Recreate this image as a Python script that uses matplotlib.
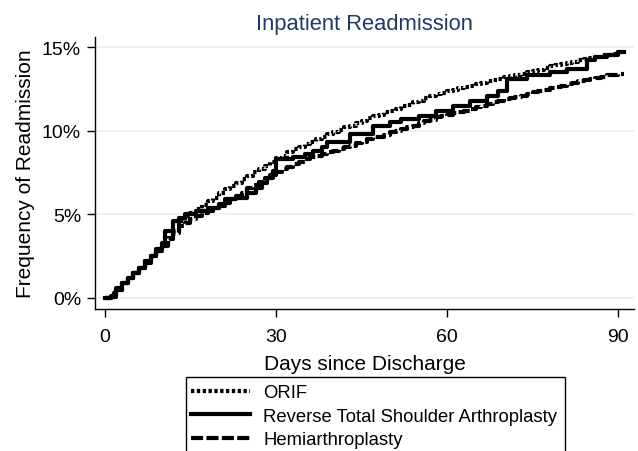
import matplotlib
matplotlib.use("Agg")
import matplotlib.pyplot as plt
from matplotlib.patches import Rectangle
from matplotlib.ticker import FuncFormatter

plt.rcParams['font.family'] = ['Liberation Sans', 'DejaVu Sans']

title = "Inpatient Readmission"
xlabel = "Days since Discharge"
ylabel = "Frequency of Readmission"
xticks = [0, 30, 60, 90]
yticks = [0, 5, 10, 15]
labels = ["ORIF", "Reverse Total Shoulder Arthroplasty", "Hemiarthroplasty"]

orif_days = list(range(0, 92))
orif_pct = [0, 0.1, 0.5, 0.9, 1.2, 1.5, 1.8, 2.2, 2.5, 2.8,
            3.2, 3.6, 4.0, 4.6, 4.9, 5.1, 5.3, 5.55, 5.8, 6.0,
            6.25, 6.5, 6.7, 6.9, 7.1, 7.3, 7.5, 7.7, 7.9, 8.1,
            8.35, 8.5, 8.7, 8.9, 9.05, 9.2, 9.35, 9.5, 9.65, 9.8,
            9.9, 10.05, 10.2, 10.3, 10.45, 10.6, 10.75, 10.85, 10.95, 11.1,
            11.2, 11.3, 11.45, 11.55, 11.7, 11.8, 11.95, 12.05, 12.2, 12.25,
            12.35, 12.45, 12.55, 12.6, 12.7, 12.8, 12.85, 12.95, 13.05, 13.1,
            13.2, 13.25, 13.35, 13.4, 13.5, 13.55, 13.65, 13.75, 13.85, 13.9,
            14.0, 14.05, 14.1, 14.2, 14.3, 14.35, 14.4, 14.5, 14.55, 14.6,
            14.7, 14.75]

rtsa_days = [0, 1, 1.5, 2, 3, 4, 5, 6, 7, 8, 9, 10, 10.5, 12, 13, 14, 16, 18, 20, 21,
             23, 25, 26.5, 27.5, 28.5, 29.5, 30, 33, 35, 36.5, 38, 39, 43, 47, 50, 52,
             55, 58, 61, 64, 67, 69, 70.5, 74, 78, 81, 84.5, 86, 88, 90, 91]
rtsa_pct = [0, 0.05, 0.3, 0.6, 0.9, 1.2, 1.5, 1.8, 2.2, 2.5, 2.9, 3.3, 4.0, 4.6, 4.8, 5.0, 5.2, 5.4, 5.6, 5.9,
            6.0, 6.3, 6.6, 6.9, 7.2, 7.6, 8.3, 8.4, 8.6, 8.8, 9.0, 9.3, 9.8, 10.3, 10.5, 10.7,
            10.9, 11.2, 11.5, 11.8, 12.1, 12.4, 13.1, 13.3, 13.5, 13.7, 14.2, 14.4, 14.5, 14.7, 14.7]

hemi_days = list(range(0, 92))
hemi_pct = [0, 0.05, 0.5, 0.9, 1.2, 1.5, 1.8, 2.1, 2.5, 2.8,
            3.1, 3.5, 3.9, 4.3, 4.5, 4.7, 4.9, 5.05, 5.2, 5.35,
            5.5, 5.7, 5.9, 6.1, 6.3, 6.55, 6.75, 6.95, 7.15, 7.35,
            7.55, 7.7, 7.85, 8.0, 8.15, 8.3, 8.4, 8.5, 8.6, 8.7,
            8.8, 8.9, 9.0, 9.1, 9.25, 9.35, 9.5, 9.6, 9.65, 9.75,
            9.9, 10.0, 10.1, 10.2, 10.3, 10.45, 10.55, 10.65, 10.8, 10.85,
            10.95, 11.05, 11.1, 11.2, 11.3, 11.4, 11.5, 11.6, 11.7, 11.8,
            11.9, 11.95, 12.0, 12.1, 12.2, 12.3, 12.35, 12.45, 12.55, 12.6,
            12.7, 12.8, 12.85, 12.95, 13.0, 13.1, 13.15, 13.2, 13.3, 13.35,
            13.4, 13.4]

W, H = 638, 452
fig = plt.figure(figsize=(W / 100, H / 100), dpi=100)
ax = fig.add_axes([95 / W, 1 - 310 / H, (634 - 95) / W, (310 - 38) / H])

lw = 3.0
ax.plot(orif_days, orif_pct, drawstyle='steps-post', color='black', lw=lw,
        linestyle=(0, (0.8, 0.6)), label=labels[0])
ax.plot(rtsa_days, rtsa_pct, drawstyle='steps-post', color='black', lw=lw,
        linestyle='-', label=labels[1])
ax.plot(hemi_days, hemi_pct, drawstyle='steps-post', color='black', lw=lw,
        linestyle=(0, (2.9, 0.8)), label=labels[2])

ax.set_xlim(-1.75, 92.8)
ax.set_ylim(-0.66, 15.6)
ax.set_xticks(xticks)
ax.set_yticks(yticks)
ax.yaxis.set_major_formatter(FuncFormatter(lambda v, p: f"{int(v)}%"))
ax.grid(axis='y', color='#e8f0f3', lw=1.2)
ax.set_axisbelow(True)
for s in ['top', 'right']:
    ax.spines[s].set_visible(False)
for s in ['left', 'bottom']:
    ax.spines[s].set_linewidth(1.0)
ax.tick_params(axis='y', labelsize=14, length=6, width=1, pad=4)
ax.tick_params(axis='x', labelsize=14, length=6, width=1, pad=8)

ax.set_xlabel(xlabel, fontsize=15, labelpad=6)
ax.set_ylabel(ylabel, fontsize=15, labelpad=5)
ax.set_title(title, fontsize=15.8, color='#1f3a68', pad=6)

handles, labs = ax.get_legend_handles_labels()
leg = fig.legend(handles, labs, loc='upper left', bbox_to_anchor=(191 / W, 1 - 385 / H),
                 frameon=False, fontsize=13.3, handlelength=3.2, handletextpad=0.7,
                 labelspacing=0.36, borderpad=0, borderaxespad=0)
fig.patches.append(Rectangle((186 / W, -0.05), (565 - 186) / W, (1 - 378 / H) + 0.05,
                             transform=fig.transFigure, fill=False, edgecolor='black', lw=1.0))

fig.savefig("out.png", dpi=100)
